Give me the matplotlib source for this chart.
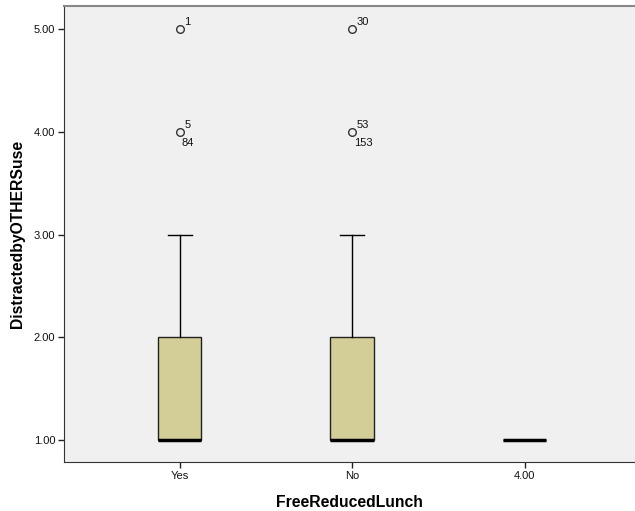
import matplotlib
matplotlib.use("Agg")
import matplotlib.pyplot as plt

plt.rcParams['font.family'] = ['Liberation Sans', 'DejaVu Sans']

categories = ["Yes", "No", "4.00"]
q1 = [1.0, 1.0, 1.0]
medians = [1.0, 1.0, 1.0]
q3 = [2.0, 2.0, 1.0]
whisker_low = [1.0, 1.0, 1.0]
whisker_high = [3.0, 3.0, 1.0]
outliers = [[5.0, 4.0], [5.0, 4.0], []]
outlier_labels = [[("1", 5.0, "up"), ("5", 4.0, "up"), ("84", 4.0, "down")],
                  [("30", 5.0, "up"), ("53", 4.0, "up"), ("153", 4.0, "down")],
                  []]
yticks = [1.0, 2.0, 3.0, 4.0, 5.0]

fig = plt.figure(figsize=(6.35, 5.11), dpi=100)
ax = fig.add_axes([0.101, 0.095, 0.899, 0.893])
ax.set_facecolor('#F0F0F0')

stats = []
for i in range(len(categories)):
    stats.append(dict(med=medians[i], q1=q1[i], q3=q3[i],
                      whislo=whisker_low[i], whishi=whisker_high[i],
                      fliers=outliers[i], label=categories[i]))

pos = list(range(len(categories)))
ax.bxp(stats, positions=pos, widths=0.252, patch_artist=True,
       boxprops=dict(facecolor='#D3CE97', edgecolor='#222222', linewidth=1.0),
       medianprops=dict(color='black', linewidth=2.5, solid_capstyle='butt'),
       whiskerprops=dict(color='black', linewidth=1.0),
       capprops=dict(color='black', linewidth=1.0),
       capwidths=0.14,
       flierprops=dict(marker='o', markersize=5.5, markerfacecolor='none',
                       markeredgecolor='#333333', markeredgewidth=1.0),
       zorder=3)

for i, labs in enumerate(outlier_labels):
    for txt, yv, where in labs:
        if where == "up":
            ax.annotate(txt, (pos[i], yv), xytext=(3.5, 1.5), textcoords='offset points',
                        fontsize=8, color='#111111', ha='left', va='bottom')
        else:
            ax.annotate(txt, (pos[i], yv), xytext=(1.5, -4.5), textcoords='offset points',
                        fontsize=8, color='#111111', ha='left', va='top')

ax.set_xlim(-0.67, 2.64)
ax.set_ylim(0.781, 5.224)
ax.set_xticks(pos)
ax.set_xticklabels(categories, fontsize=8)
ax.set_yticks(yticks)
ax.set_yticklabels([f"{v:.2f}" for v in yticks], fontsize=8)
ax.tick_params(axis='both', direction='out', length=4.5, width=1, color='#222222',
               labelcolor='#111111', pad=2)

ax.spines['right'].set_visible(False)
ax.spines['top'].set_color('#888888')
ax.spines['top'].set_linewidth(1.5)
ax.spines['left'].set_color('#333333')
ax.spines['bottom'].set_color('#333333')

ax.set_xlabel("FreeReducedLunch", fontsize=11.3, fontweight='bold', labelpad=10)
ax.set_ylabel("DistractedbyOTHERSuse", fontsize=11.3, fontweight='bold', labelpad=6)

fig.savefig("out.png", dpi=100)
